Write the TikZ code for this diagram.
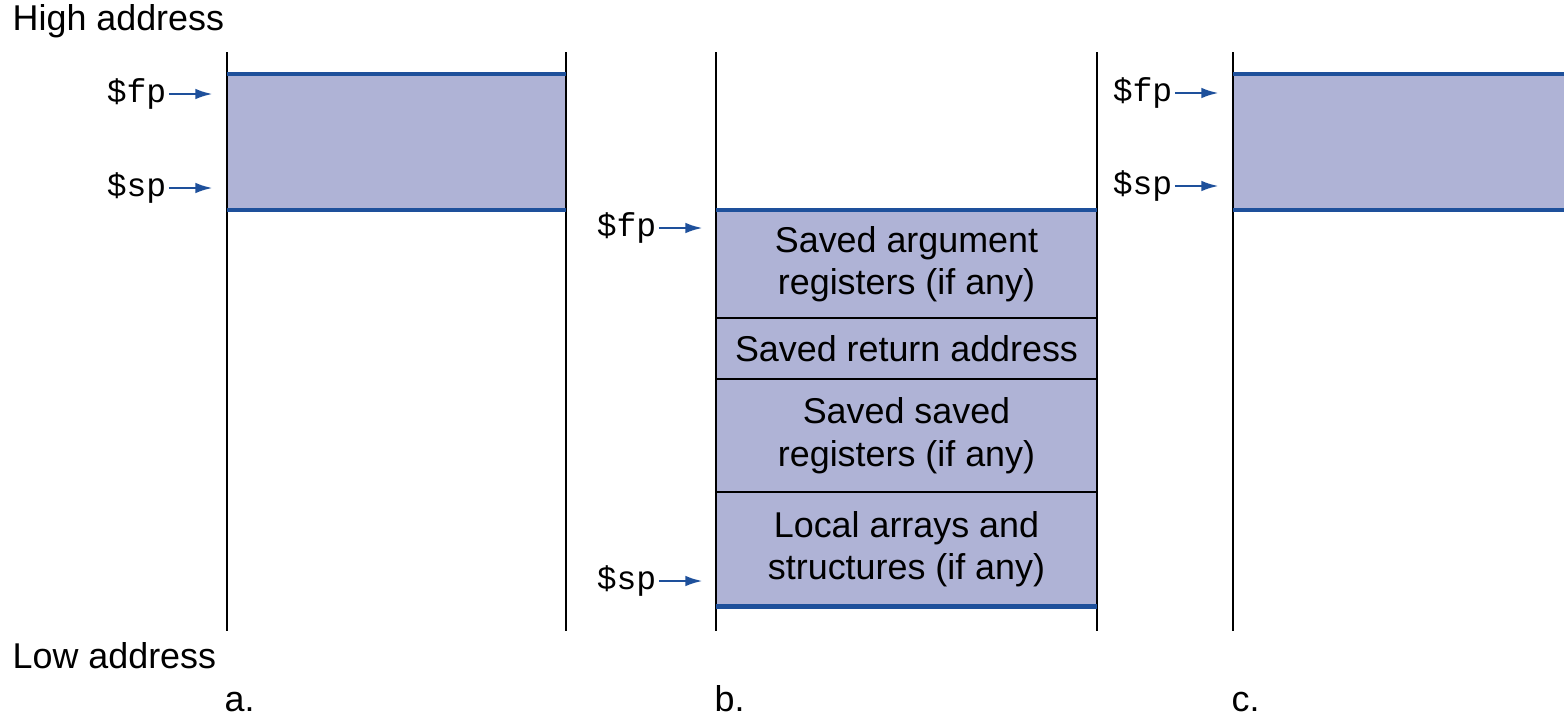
\documentclass[tikz,border=0pt]{standalone}
\usepackage{fontspec}
\setmainfont{Liberation Sans}
\setmonofont{Liberation Mono}
\usetikzlibrary{arrows.meta}
\definecolor{stackfill}{RGB}{175,179,214}
\definecolor{stackblue}{RGB}{30,80,155}
\tikzset{
  wall/.style={line width=0.6pt},
  edge/.style={stackblue, line width=1.3pt},
  frame/.style={draw, line width=0.45pt, fill=stackfill, minimum width=3.81cm,
    inner sep=0pt, outer sep=0pt, align=center, font=\fontsize{10.2}{12}\selectfont},
  ptr/.style={anchor=east, inner sep=0pt, font=\ttfamily\fontsize{9.4}{11}\selectfont},
  ptrarrow/.style={stackblue, line width=0.8pt, shorten <=0.5pt, -{Latex[length=5pt,width=3pt]}},
  lbl/.style={anchor=base west, inner sep=0pt, font=\fontsize{10.2}{12}\selectfont}
}
\begin{document}
\begin{tikzpicture}[x=0.01cm, y=-0.01cm]
  \useasboundingbox (0,0) rectangle (1564,715);
  % frames of a. and c.
  \fill[stackfill] (227,74) rectangle (566,210);
  \fill[stackfill] (1233,74) rectangle (1564,210);
  % frame of b.
  \node[frame, minimum height=1.08cm, anchor=north] (args) at (906.5,210) {Saved argument\\registers (if any)};
  \node[frame, minimum height=0.61cm, anchor=north] (ret) at (args.south) {Saved return address};
  \node[frame, minimum height=1.13cm, anchor=north] (saved) at (ret.south) {Saved saved\\registers (if any)};
  \node[frame, minimum height=1.14cm, anchor=north] (local) at (saved.south) {Local arrays and\\structures (if any)};
  % stack walls
  \foreach \x in {227,566,716,1097,1233}
    \draw[wall] (\x,52) -- (\x,631);
  % frame limits
  \draw[edge] (227,74) -- (566,74);
  \draw[edge] (227,210) -- (566,210);
  \draw[edge] (args.north west) -- (args.north east);
  \draw[edge] (local.south west) -- (local.south east);
  \draw[edge] (1233,74) -- (1564,74);
  \draw[edge] (1233,210) -- (1564,210);
  % pointers
  \node[ptr] (afp) at (167,94) {\$fp};
  \node[ptr] (asp) at (167,188) {\$sp};
  \node[ptr] (bfp) at (657,228) {\$fp};
  \node[ptr] (bsp) at (657,581) {\$sp};
  \node[ptr] (cfp) at (1173,93) {\$fp};
  \node[ptr] (csp) at (1173,186) {\$sp};
  \coordinate (afpend) at (213,94);
  \coordinate (aspend) at (213,188);
  \coordinate (bfpend) at (703,228);
  \coordinate (bspend) at (703,581);
  \coordinate (cfpend) at (1219,93);
  \coordinate (cspend) at (1219,186);
  \foreach \p in {afp,asp,bfp,bsp,cfp,csp}
    \draw[ptrarrow] (\p.east) -- (\p end);
  % labels
  \node[lbl] (high) at (12,31) {High address};
  \node[lbl] (low) at (12,668) {Low address};
  \node[lbl] (capa) at (224,711) {a.};
  \node[lbl] (capb) at (714,711) {b.};
  \node[lbl] (capc) at (1231,711) {c.};
\end{tikzpicture}
\end{document}
